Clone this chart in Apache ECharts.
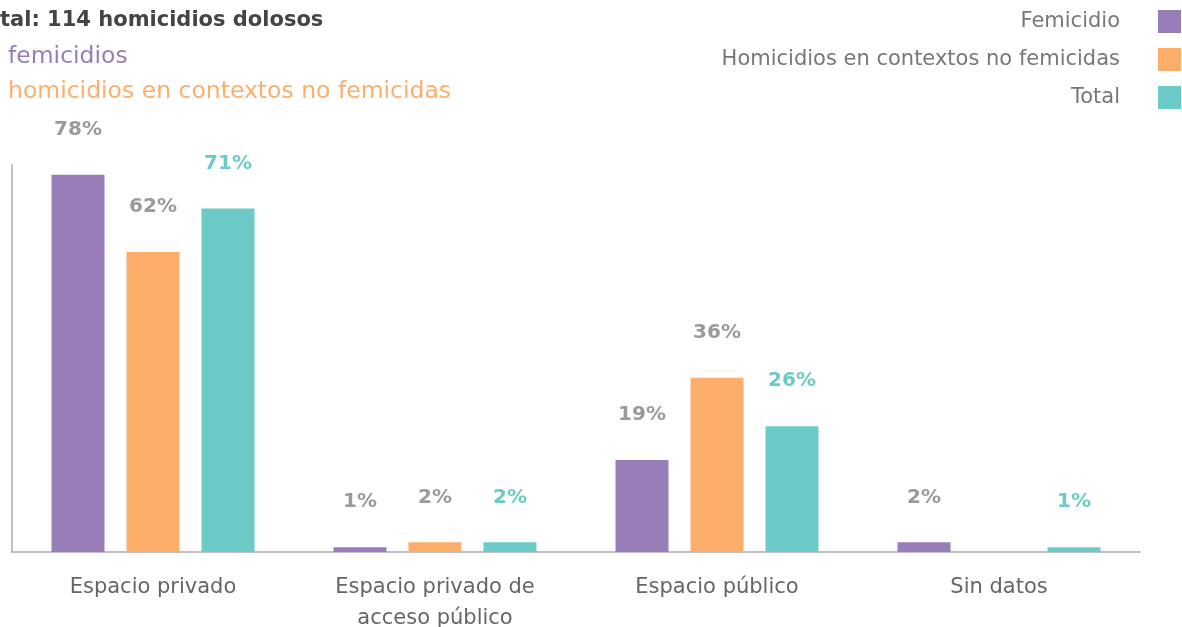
<!DOCTYPE html>
<html>
<head>
<meta charset="utf-8">
<script src="https://cdn.jsdelivr.net/npm/echarts@6/dist/echarts.min.js"></script>
<style>
  html, body { margin: 0; padding: 0; background: #fff; }
  #main { width: 1182px; height: 627px; }
</style>
</head>
<body>
<div id="main"></div>
<script>
var categories = ['Espacio privado', 'Espacio privado de\nacceso público', 'Espacio público', 'Sin datos'];
var femicidio = [78, 1, 19, 2];
var noFemicida = [62, 2, 36, 0];
var total = [71, 2, 26, 1];

var FONT = 'DejaVu Sans';
var purple = '#987EB9';
var orange = '#FDAE6B';
var teal = '#6CCBC6';

var chart = echarts.init(document.getElementById('main'), null, { renderer: 'canvas' });

function barLabel(color) {
  return {
    show: true,
    position: 'top',
    distance: 35,
    fontFamily: FONT,
    fontWeight: 'bold',
    fontSize: 20,
    color: color,
    formatter: function (p) { return p.value ? p.value + '%' : ''; }
  };
}

var option = {
  backgroundColor: '#fff',
  animation: false,
  title: [{
    text: 'tal: 114 homicidios dolosos',
    left: 0, top: 10, padding: 0,
    textStyle: { fontFamily: FONT, fontWeight: 'bold', fontSize: 21, color: '#444' }
  }, {
    text: 'femicidios',
    left: 8, top: 45, padding: 0,
    textStyle: { fontFamily: FONT, fontWeight: 'normal', fontSize: 23.5, color: purple }
  }, {
    text: 'homicidios en contextos no femicidas',
    left: 8, top: 80, padding: 0,
    textStyle: { fontFamily: FONT, fontWeight: 'normal', fontSize: 23.5, color: orange }
  }],
  legend: {
    orient: 'vertical',
    align: 'right',
    right: 1,
    top: 10,
    padding: 0,
    itemWidth: 23,
    itemHeight: 23,
    itemGap: 15,
    icon: 'rect',
    textStyle: { fontFamily: FONT, fontSize: 21, color: '#777', padding: [0, 33, 0, 0] },
    data: ['Femicidio', 'Homicidios en contextos no femicidas', 'Total']
  },
  grid: { left: 12, right: 42, top: 165, bottom: 75, outerBoundsMode: 'none' },
  xAxis: {
    type: 'category',
    data: categories,
    axisLine: { lineStyle: { color: '#aaa', width: 1.5 } },
    axisTick: { show: false },
    axisLabel: { fontFamily: FONT, fontSize: 21, color: '#666', margin: 20, lineHeight: 31 }
  },
  yAxis: {
    type: 'value',
    min: 0,
    max: 80,
    axisLine: { show: true, lineStyle: { color: '#aaa', width: 1.5 } },
    axisTick: { show: false },
    axisLabel: { show: false },
    splitLine: { show: false }
  },
  series: [{
    name: 'Femicidio',
    type: 'bar',
    data: femicidio,
    barWidth: 53,
    barGap: '41.5%',
    itemStyle: { color: purple },
    label: barLabel('#9a9a9a')
  }, {
    name: 'Homicidios en contextos no femicidas',
    type: 'bar',
    data: noFemicida,
    barWidth: 53,
    barGap: '41.5%',
    itemStyle: { color: orange },
    label: barLabel('#9a9a9a')
  }, {
    name: 'Total',
    type: 'bar',
    data: total,
    barWidth: 53,
    barGap: '41.5%',
    itemStyle: { color: teal },
    label: barLabel(teal)
  }]
};

chart.setOption(option);
</script>
</body>
</html>
